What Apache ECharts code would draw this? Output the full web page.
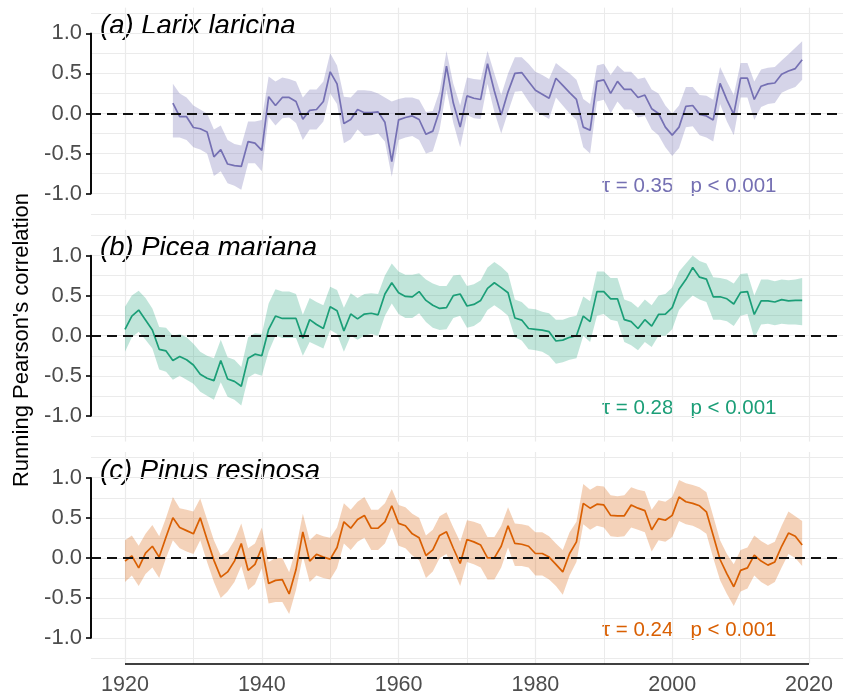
<!DOCTYPE html>
<html>
<head>
<meta charset="utf-8">
<script src="https://cdn.jsdelivr.net/npm/echarts@6/dist/echarts.min.js"></script>
<style>
  html, body { margin: 0; padding: 0; background: #fff; }
  #chart { width: 846px; height: 694px; }
</style>
</head>
<body>
<div id="chart"></div>
<script>
// running Pearson correlation, (a) Larix laricina, 1927-2019
var startA = 1927;
var larixR = [0.13, -0.04, -0.04, -0.175, -0.19, -0.23, -0.54, -0.45, -0.63, -0.65,
  -0.66, -0.35, -0.37, -0.46, 0.21, 0.10, 0.20, 0.20, 0.15, -0.07,
  0.04, 0.05, 0.15, 0.52, 0.37, -0.125, -0.075, 0.05, 0.01, 0.01,
  0.02, -0.11, -0.60, -0.08, -0.05, -0.03, -0.075, -0.26, -0.22, 0.04,
  0.59, 0.13, -0.17, 0.22, 0.19, 0.175, 0.62, 0.28, -0.02, 0.27,
  0.50, 0.51, 0.40, 0.29, 0.24, 0.19, 0.44, 0.35, 0.26, 0.175,
  -0.17, -0.21, 0.40, 0.42, 0.25, 0.40, 0.30, 0.30, 0.20, 0.23,
  0.06, 0.00, -0.17, -0.27, -0.17, 0.09, 0.10, -0.01, -0.03, -0.08,
  0.375, 0.17, -0.01, 0.44, 0.44, 0.175, 0.34, 0.37, 0.38, 0.49,
  0.53, 0.56, 0.67];
var larixHi = [0.37, 0.25, 0.20, 0.10, 0.05, 0.00, -0.20, -0.15, -0.33, -0.38,
  -0.40, -0.10, -0.10, -0.08, 0.46, 0.40, 0.45, 0.43, 0.40, 0.20,
  0.30, 0.30, 0.40, 0.75, 0.60, 0.21, 0.20, 0.29, 0.29, 0.28,
  0.25, 0.20, 0.15, 0.18, 0.20, 0.20, 0.17, 0.02, 0.03, 0.28,
  0.78, 0.37, 0.10, 0.45, 0.43, 0.42, 0.78, 0.50, 0.23, 0.50,
  0.70, 0.70, 0.62, 0.52, 0.48, 0.43, 0.63, 0.56, 0.50, 0.42,
  0.18, 0.12, 0.60, 0.62, 0.48, 0.60, 0.52, 0.52, 0.43, 0.45,
  0.30, 0.25, 0.10, 0.00, 0.10, 0.33, 0.33, 0.23, 0.22, 0.17,
  0.58, 0.40, 0.23, 0.63, 0.63, 0.40, 0.55, 0.57, 0.58, 0.66,
  0.74, 0.82, 0.90];
var larixLo = [-0.30, -0.30, -0.33, -0.42, -0.45, -0.50, -0.78, -0.72, -0.87, -0.90,
  -0.95, -0.62, -0.62, -0.72, -0.04, -0.15, -0.06, -0.05, -0.12, -0.33,
  -0.20, -0.20, -0.10, 0.25, 0.12, -0.37, -0.32, -0.20, -0.28, -0.27,
  -0.25, -0.35, -0.79, -0.33, -0.30, -0.28, -0.33, -0.50, -0.47, -0.20,
  0.30, -0.12, -0.42, -0.02, -0.06, -0.07, 0.37, 0.02, -0.25, 0.02,
  0.27, 0.28, 0.15, 0.03, -0.02, -0.07, 0.20, 0.10, 0.00, -0.08,
  -0.42, -0.50, 0.15, 0.17, 0.00, 0.15, 0.05, 0.05, -0.05, -0.03,
  -0.20, -0.27, -0.42, -0.53, -0.43, -0.17, -0.16, -0.27, -0.30, -0.35,
  0.12, -0.10, -0.27, 0.20, 0.20, -0.08, 0.08, 0.12, 0.13, 0.26,
  0.30, 0.33, 0.42];

// (b) Picea mariana, 1920-2019
var startBC = 1920;
var piceaR = [0.08, 0.245, 0.32, 0.195, 0.07, -0.17, -0.19, -0.31, -0.26, -0.30,
  -0.365, -0.48, -0.53, -0.56, -0.31, -0.54, -0.57, -0.63, -0.28, -0.23,
  -0.25, 0.08, 0.245, 0.215, 0.215, 0.215, -0.03, 0.20, 0.14, 0.09,
  0.36, 0.31, 0.06, 0.27, 0.21, 0.27, 0.28, 0.26, 0.52, 0.66,
  0.535, 0.49, 0.485, 0.55, 0.44, 0.38, 0.34, 0.35, 0.50, 0.52,
  0.37, 0.39, 0.44, 0.59, 0.66, 0.60, 0.535, 0.22, 0.195, 0.09,
  0.08, 0.07, 0.05, -0.066, -0.055, -0.02, 0.00, 0.245, 0.175, 0.55,
  0.55, 0.46, 0.46, 0.20, 0.175, 0.09, 0.20, 0.12, 0.265, 0.27,
  0.35, 0.58, 0.70, 0.85, 0.73, 0.705, 0.485, 0.485, 0.46, 0.395,
  0.54, 0.55, 0.265, 0.435, 0.435, 0.42, 0.45, 0.435, 0.44, 0.44];
var piceaHi = [0.36, 0.50, 0.56, 0.47, 0.34, 0.11, 0.10, 0.00, 0.02, -0.02,
  -0.10, -0.20, -0.25, -0.28, -0.05, -0.27, -0.30, -0.39, -0.02, 0.03,
  0.02, 0.40, 0.58, 0.55, 0.55, 0.52, 0.26, 0.47, 0.42, 0.38,
  0.61, 0.57, 0.35, 0.53, 0.47, 0.52, 0.53, 0.52, 0.75, 0.90,
  0.80, 0.76, 0.76, 0.78, 0.70, 0.65, 0.62, 0.62, 0.75, 0.76,
  0.62, 0.64, 0.69, 0.85, 0.92, 0.86, 0.78, 0.45, 0.42, 0.34,
  0.33, 0.30, 0.28, 0.20, 0.20, 0.23, 0.25, 0.49, 0.43, 0.80,
  0.80, 0.72, 0.72, 0.45, 0.42, 0.35, 0.45, 0.38, 0.50, 0.52,
  0.60, 0.80, 0.90, 1.00, 0.93, 0.90, 0.73, 0.72, 0.70, 0.65,
  0.77, 0.78, 0.50, 0.70, 0.70, 0.68, 0.70, 0.69, 0.70, 0.72];
var piceaLo = [-0.20, -0.02, 0.05, -0.05, -0.16, -0.42, -0.45, -0.55, -0.50, -0.55,
  -0.60, -0.70, -0.75, -0.80, -0.58, -0.76, -0.80, -0.87, -0.52, -0.47,
  -0.50, -0.20, 0.00, -0.03, -0.03, -0.03, -0.25, -0.08, -0.12, -0.16,
  0.07, 0.02, -0.20, 0.00, -0.05, 0.00, 0.02, 0.00, 0.25, 0.40,
  0.27, 0.22, 0.22, 0.28, 0.17, 0.10, 0.07, 0.08, 0.22, 0.25,
  0.10, 0.12, 0.18, 0.32, 0.38, 0.32, 0.25, -0.02, -0.06, -0.17,
  -0.18, -0.20, -0.25, -0.35, -0.33, -0.30, -0.28, 0.00, -0.08, 0.25,
  0.27, 0.20, 0.18, -0.08, -0.12, -0.18, -0.08, -0.14, 0.00, 0.00,
  0.08, 0.32, 0.42, 0.50, 0.45, 0.42, 0.20, 0.20, 0.18, 0.12,
  0.25, 0.27, -0.03, 0.14, 0.15, 0.13, 0.15, 0.14, 0.14, 0.13];

// (c) Pinus resinosa, 1920-2019
var pinusR = [-0.04, 0.025, -0.125, 0.06, 0.145, 0.01, 0.26, 0.50, 0.38, 0.34,
  0.30, 0.50, 0.23, -0.03, -0.24, -0.175, -0.04, 0.18, -0.155, -0.08,
  0.13, -0.32, -0.28, -0.27, -0.45, -0.145, 0.325, -0.04, 0.045, 0.01,
  -0.015, 0.13, 0.45, 0.37, 0.48, 0.53, 0.37, 0.37, 0.45, 0.65,
  0.43, 0.40, 0.30, 0.25, 0.03, 0.10, 0.28, 0.325, 0.12, -0.07,
  0.23, 0.20, 0.16, 0.00, 0.00, 0.145, 0.40, 0.18, 0.17, 0.145,
  0.055, 0.055, 0.01, -0.08, -0.175, 0.055, 0.20, 0.68, 0.62, 0.67,
  0.66, 0.53, 0.525, 0.525, 0.66, 0.62, 0.59, 0.35, 0.49, 0.47,
  0.53, 0.76, 0.70, 0.68, 0.65, 0.575, 0.28, -0.02, -0.20, -0.36,
  -0.155, -0.125, 0.035, -0.04, -0.09, -0.05, 0.145, 0.31, 0.27, 0.16];
var pinusHi = [0.22, 0.28, 0.15, 0.30, 0.41, 0.27, 0.50, 0.76, 0.62, 0.60,
  0.58, 0.74, 0.48, 0.22, 0.03, 0.08, 0.22, 0.43, 0.12, 0.18,
  0.38, -0.05, 0.00, 0.00, -0.18, 0.12, 0.55, 0.22, 0.30, 0.27,
  0.25, 0.38, 0.68, 0.60, 0.70, 0.76, 0.60, 0.60, 0.68, 0.86,
  0.66, 0.63, 0.55, 0.50, 0.28, 0.35, 0.52, 0.57, 0.38, 0.20,
  0.47, 0.45, 0.42, 0.26, 0.26, 0.40, 0.63, 0.43, 0.42, 0.40,
  0.32, 0.32, 0.27, 0.18, 0.10, 0.32, 0.45, 0.92, 0.85, 0.90,
  0.89, 0.78, 0.77, 0.78, 0.88, 0.85, 0.83, 0.60, 0.72, 0.70,
  0.76, 0.97, 0.93, 0.91, 0.88, 0.82, 0.52, 0.22, 0.05, -0.08,
  0.10, 0.13, 0.28, 0.21, 0.16, 0.20, 0.40, 0.58, 0.52, 0.46];
var pinusLo = [-0.30, -0.22, -0.35, -0.20, -0.12, -0.25, 0.00, 0.22, 0.12, 0.08,
  0.05, 0.22, -0.05, -0.30, -0.50, -0.42, -0.30, -0.10, -0.40, -0.33,
  -0.13, -0.57, -0.55, -0.55, -0.70, -0.40, 0.02, -0.30, -0.22, -0.25,
  -0.27, -0.13, 0.18, 0.10, 0.20, 0.25, 0.10, 0.10, 0.18, 0.38,
  0.15, 0.12, 0.03, -0.03, -0.25, -0.17, 0.00, 0.05, -0.15, -0.35,
  -0.05, -0.08, -0.12, -0.27, -0.27, -0.12, 0.13, -0.10, -0.10, -0.12,
  -0.22, -0.22, -0.27, -0.35, -0.46, -0.22, -0.05, 0.42, 0.35, 0.40,
  0.38, 0.27, 0.26, 0.27, 0.38, 0.35, 0.32, 0.08, 0.22, 0.20,
  0.26, 0.46, 0.42, 0.40, 0.36, 0.30, 0.00, -0.28, -0.45, -0.60,
  -0.42, -0.38, -0.22, -0.30, -0.35, -0.30, -0.12, 0.05, 0.00, -0.10];

var panelTitles = ['(a) Larix laricina', '(b) Picea mariana', '(c) Pinus resinosa'];
var trendTexts = ['τ = 0.35   p < 0.001', 'τ = 0.28   p < 0.001', 'τ = 0.24   p < 0.001'];
var colors = ['#7570B3', '#1B9E77', '#D95F02'];
var bandColors = ['rgba(117,112,179,0.3)', 'rgba(27,158,119,0.27)', 'rgba(217,95,2,0.28)'];

var panels = [
  { start: startA, r: larixR, hi: larixHi, lo: larixLo },
  { start: startBC, r: piceaR, hi: piceaHi, lo: piceaLo },
  { start: startBC, r: pinusR, hi: pinusHi, lo: pinusLo }
];

// layout (pixels)
var zeros = [113.5, 335.7, 557.9];
var U = 80.2;          // pixels per correlation unit
var FONT = '"Liberation Sans", Arial, sans-serif';
var grey = '#ebebeb';
var axisStyle = { color: '#000', width: 1.6 };
var noLine = { show: false };

var grids = [], xAxes = [], yAxes = [], series = [], graphics = [];

function blankLine(xi, yi, z, lineData, style) {
  return {
    type: 'line', xAxisIndex: xi, yAxisIndex: yi, data: [], z: z, clip: false,
    markLine: {
      silent: true, symbol: ['none', 'none'], label: { show: false },
      lineStyle: style, data: lineData
    }
  };
}

panels.forEach(function (p, i) {
  var z0 = zeros[i];
  var gBg = grids.length, gLab = gBg + 1, gData = gBg + 2;

  // background grid: horizontal gridlines + dashed zero line
  grids.push({ left: 91, right: 3, top: z0 - 1.25 * U, height: 2.5 * U, outerBoundsMode: 'none' });
  // axis grid: y axis line / ticks / labels capped at -1..1
  grids.push({ left: 91, width: 50, top: z0 - U, height: 2 * U, outerBoundsMode: 'none' });
  // data grid: years 1920-2020
  grids.push({ left: 125, right: 37, top: z0 - 1.32 * U, height: 2.64 * U, outerBoundsMode: 'none' });

  xAxes.push({ gridIndex: gBg, type: 'value', min: 0, max: 1, show: false });
  yAxes.push({
    gridIndex: gBg, type: 'value', min: -1.25, max: 1.25, interval: 0.25,
    axisLine: noLine, axisTick: noLine, axisLabel: noLine,
    splitLine: { show: true, lineStyle: { color: grey, width: 1.2 } }
  });

  xAxes.push({ gridIndex: gLab, type: 'value', min: 0, max: 1, show: false });
  yAxes.push({
    gridIndex: gLab, type: 'value', min: -1, max: 1, interval: 0.5,
    axisLine: { show: true, onZero: false, lineStyle: axisStyle },
    axisTick: { show: true, length: 5, lineStyle: axisStyle },
    axisLabel: {
      show: true, fontSize: 22, color: '#4d4d4d', fontFamily: FONT, margin: 9,
      formatter: function (v) { return v.toFixed(1); }
    },
    splitLine: noLine
  });

  xAxes.push({
    gridIndex: gData, type: 'value', min: 1920, max: 2020, interval: 20,
    axisLine: noLine, axisTick: noLine, axisLabel: noLine,
    splitLine: { show: true, lineStyle: { color: grey, width: 1.2 } },
    minorTick: { show: false, splitNumber: 2 },
    minorSplitLine: { show: true, lineStyle: { color: grey, width: 1 } }
  });
  yAxes.push({ gridIndex: gData, type: 'value', min: -1.32, max: 1.32, show: false, splitLine: noLine });

  // dashed zero line across the panel
  series.push(blankLine(gBg, gBg, 3, [{ yAxis: 0 }], { color: '#111', type: [10, 6], width: 1.8 }));

  // capped y axis line (-1 .. 1)
  series.push(blankLine(gLab, gLab, 5, [[{ xAxis: 0, yAxis: -1 }, { xAxis: 0, yAxis: 1 }]],
    { color: '#000', type: 'solid', width: 1.6 }));

  // confidence ribbon
  var bandData = p.r.map(function (v, k) { return [p.start + k, p.lo[k], p.hi[k]]; });
  series.push({
    type: 'custom', xAxisIndex: gData, yAxisIndex: gData, z: 2, silent: true,
    data: bandData,
    encode: { x: 0, y: [1, 2] },
    renderItem: (function (band, fill) {
      return function (params, api) {
        if (params.dataIndex !== 0) return;
        var pts = [];
        band.forEach(function (d) { pts.push(api.coord([d[0], d[2]])); });
        for (var k = band.length - 1; k >= 0; k--) pts.push(api.coord([band[k][0], band[k][1]]));
        return { type: 'polygon', shape: { points: pts }, style: { fill: fill } };
      };
    })(bandData, bandColors[i])
  });

  // running correlation line
  series.push({
    type: 'line', xAxisIndex: gData, yAxisIndex: gData, z: 4,
    data: p.r.map(function (v, k) { return [p.start + k, v]; }),
    symbol: 'none', lineStyle: { color: colors[i], width: 1.7 }
  });

  graphics.push({
    type: 'text', x: 100, y: z0 - 87,
    style: {
      text: panelTitles[i], font: 'italic 27.5px ' + FONT, fill: '#000',
      verticalAlign: 'middle', textVerticalAlign: 'middle'
    }
  });
  graphics.push({
    type: 'text', x: 602, y: z0 + 72.7,
    style: {
      text: trendTexts[i], font: '20.5px ' + FONT, fill: colors[i],
      verticalAlign: 'middle', textVerticalAlign: 'middle'
    }
  });
});

// shared bottom year axis: thin grid, axis line drawn through its middle
var gX = grids.length;
grids.push({ left: 125, right: 37, top: 660, height: 8, outerBoundsMode: 'none' });
xAxes.push({
  gridIndex: gX, type: 'value', min: 1920, max: 2020, interval: 20, position: 'bottom',
  axisLine: noLine, axisTick: noLine,
  axisLabel: {
    show: true, fontSize: 21.5, color: '#4d4d4d', fontFamily: FONT, margin: 6,
    formatter: function (v) { return String(v); }
  },
  splitLine: noLine
});
yAxes.push({
  gridIndex: gX, type: 'value', min: 0, max: 1,
  axisLine: noLine, axisTick: noLine, axisLabel: noLine, splitLine: noLine
});
series.push(blankLine(gX, gX, 5, [[{ xAxis: 1920, yAxis: 0.5 }, { xAxis: 2020, yAxis: 0.5 }]],
  { color: '#000', type: 'solid', width: 1.6 }));

graphics.push({
  type: 'text', x: 22, y: 340, rotation: Math.PI / 2,
  style: {
    text: "Running Pearson's correlation", font: '22px ' + FONT, fill: '#000',
    align: 'center', textAlign: 'center', verticalAlign: 'middle', textVerticalAlign: 'middle'
  }
});

var chart = echarts.init(document.getElementById('chart'), null, { renderer: 'canvas' });
chart.setOption({
  backgroundColor: '#fff',
  animation: false,
  grid: grids,
  xAxis: xAxes,
  yAxis: yAxes,
  series: series,
  graphic: graphics
});
</script>
</body>
</html>
